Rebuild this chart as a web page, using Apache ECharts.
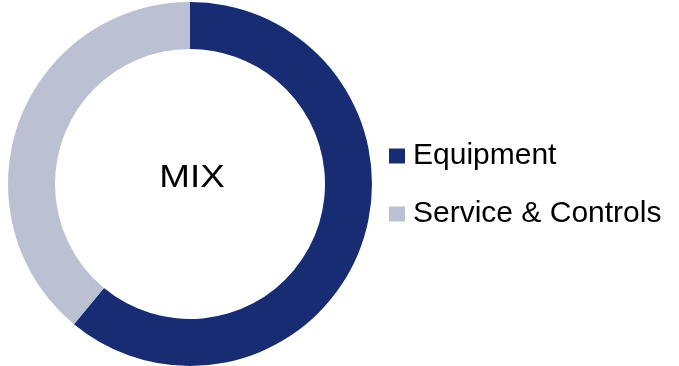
<!DOCTYPE html>
<html>
<head>
<meta charset="utf-8">
<script src="https://cdn.jsdelivr.net/npm/echarts@6/dist/echarts.min.js"></script>
<style>
  html, body { margin: 0; padding: 0; background: #ffffff; }
  #chart { width: 679px; height: 366px; }
</style>
</head>
<body>
<div id="chart"></div>
<script>
// Revenue mix by segment (share of total, %)
const categories = ['Equipment', 'Service & Controls'];
const shares = [61, 39];
const colors = ['#172c72', '#bbc0d2'];
const centerLabel = 'MIX';

const chart = echarts.init(document.getElementById('chart'), null, { renderer: 'canvas' });

chart.setOption({
  animation: false,
  color: colors,
  legend: {
    orient: 'vertical',
    left: 389,
    top: 141,
    padding: 0,
    icon: 'rect',
    itemWidth: 16,
    itemHeight: 15,
    itemGap: 28,
    selectedMode: false,
    textStyle: {
      fontFamily: 'Liberation Sans, Arial, sans-serif',
      fontSize: 30,
      lineHeight: 30,
      color: '#000000',
      padding: [0, 0, 0, 3]
    },
    data: categories
  },
  graphic: [{
    type: 'text',
    x: 192,
    y: 178,
    scaleX: 1.15,
    style: {
      text: centerLabel,
      font: '32px "Liberation Sans", Arial, sans-serif',
      fill: '#000000',
      textAlign: 'center',
      textVerticalAlign: 'middle'
    }
  }],
  series: [{
    type: 'pie',
    center: [190, 184],
    radius: [135, 182],
    startAngle: 90,
    clockwise: true,
    silent: true,
    label: { show: false },
    labelLine: { show: false },
    itemStyle: { borderWidth: 0 },
    data: categories.map((name, i) => ({ name, value: shares[i] }))
  }]
});
</script>
</body>
</html>
